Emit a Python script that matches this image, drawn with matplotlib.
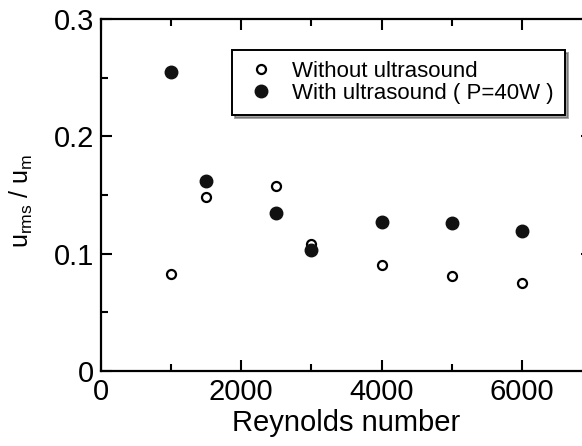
import matplotlib.pyplot as plt
import numpy as np

plt.rcParams['font.family'] = ['Liberation Sans', 'DejaVu Sans']
plt.rcParams['mathtext.fontset'] = 'custom'
plt.rcParams['mathtext.rm'] = 'Liberation Sans'
plt.rcParams['mathtext.it'] = 'Liberation Sans'

reynolds = [1000, 1500, 2500, 3000, 4000, 5000, 6000]
without_us = [0.083, 0.148, 0.158, 0.108, 0.090, 0.081, 0.075]
with_us = [0.255, 0.162, 0.135, 0.103, 0.127, 0.126, 0.119]

fig = plt.figure(figsize=(5.82, 4.46), dpi=100)
ax = fig.add_axes([101/582, 75/446, 491/582, 352/446])

ax.plot(reynolds, without_us, 'o', ms=6.5, mfc='white', mec='black', mew=1.6,
        label='Without ultrasound', clip_on=False)
ax.plot(reynolds, with_us, 'o', ms=9, mfc='#111111', mec='#111111',
        label='With ultrasound ( P=40W )', clip_on=False)

ax.set_xlim(0, 7000)
ax.set_ylim(0, 0.3)
ax.set_xticks([0, 2000, 4000, 6000])
ax.set_xticks([1000, 3000, 5000], minor=True)
ax.set_yticks([0, 0.1, 0.2, 0.3])
ax.set_yticklabels(['0', '0.1', '0.2', '0.3'])
ax.set_yticks([0.05, 0.15, 0.25], minor=True)
ax.tick_params(which='both', direction='in', top=True, right=True, width=1.5,
               labelsize=21, pad=5)
ax.tick_params(which='major', length=8)
ax.tick_params(which='minor', length=5)
for s in ax.spines.values():
    s.set_linewidth(1.6)

ax.set_xlabel('Reynolds number', fontsize=21, labelpad=2)
ax.set_ylabel(r'$\mathregular{u_{rms}\ /\ u_m}$', fontsize=18)
ax.yaxis.set_label_coords(-0.135, 0.485)

leg = ax.legend(loc='upper left', bbox_to_anchor=(232/582, 1 - 50/446),
                bbox_transform=fig.transFigure, fontsize=16, frameon=True,
                fancybox=False, shadow=True, handletextpad=0.6,
                labelspacing=0.05, borderpad=0.5, handlelength=1.6,
                borderaxespad=0)
leg.get_frame().set_edgecolor('black')
leg.get_frame().set_linewidth(1.4)

fig.savefig('out.png', dpi=100)
